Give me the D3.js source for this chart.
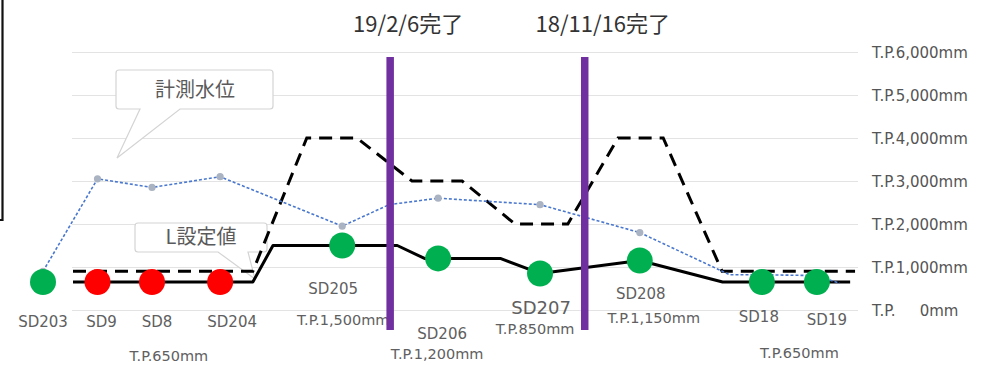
<!DOCTYPE html>
<html>
<head>
<meta charset="utf-8">
<script src="https://cdn.jsdelivr.net/npm/d3@7"></script>
<style>
  html, body { margin: 0; padding: 0; background: #ffffff; }
  svg { display: block; }
  .lat { font-family: "DejaVu Sans", Verdana, sans-serif; }
  .jp  { font-family: "Noto Sans CJK JP", "Noto Sans", sans-serif; }
</style>
</head>
<body>
<svg id="chart" width="990" height="365"></svg>
<script>
// ---- Stations along the drainage route (positions in route units) ----
const stations      = ["SD203", "SD9", "SD8", "SD204", "SD205", "SD206", "SD207", "SD208", "SD18", "SD19"];
const stationPos    = [0, 1, 2, 3.25, 5.49, 7.25, 9.12, 10.95, 13.19, 14.2];
const bottomLevel   = [650, 650, 650, 650, 1500, 1200, 850, 1150, 650, 650];   // T.P. mm
const stationStatus = ["ok", "alert", "alert", "alert", "ok", "ok", "ok", "ok", "ok", "ok"];

// Measured water level (計測水位): trace along the route, and readings at each station
const measuredPos   = [0, 1, 2, 3.25, 5.49, 6.35, 7.25, 9.12, 10.95, 12.6, 13.19, 14.2, 14.62];
const measuredLevel = [900, 3050, 2850, 3100, 1950, 2450, 2600, 2450, 1800, 820, 820, 800, 620];
const measuredAtStation = [900, 3050, 2850, 3100, 1950, 2600, 2450, 1800, 820, 800];

// Channel bottom profile (solid line)
const bottomPathPos   = [0.55, 3.85, 4.22, 6.5, 7.0, 8.39, 9.12, 10.95, 12.47, 14.81];
const bottomPathLevel = [650, 650, 1500, 1500, 1200, 1200, 850, 1150, 650, 650];

// L setting value profile (dashed line)
const settingPos   = [0.55, 3.85, 4.84, 5.76, 6.77, 7.69, 8.66, 9.63, 10.55, 11.38, 12.46, 14.9];
const settingLevel = [900, 900, 4000, 4000, 3000, 3000, 2000, 2000, 4000, 4000, 900, 900];

// Completed works
const completionPos   = [6.37, 9.94];
const completionLabel = ["19/2/6完了", "18/11/16完了"];

// Axis ticks (T.P. mm)
const levelTicks = [0, 1000, 2000, 3000, 4000, 5000, 6000];

// Groups sharing one bottom level label
const groupMembers = [["SD9", "SD8", "SD204"], ["SD18", "SD19"]];

// ---- Layout ----
const svg = d3.select("#chart");
const x = d3.scaleLinear().domain([0, 15]).range([43, 860.5]);
const y = d3.scaleLinear().domain([0, 6000]).range([310, 52]);
const gridLeft = 72, gridRight = 858;

const fmtLevel = v => "T.P." + d3.format(",")(v) + "mm";

// Gridlines + right-hand level labels
const axis = d3.axisRight(y)
  .tickValues(levelTicks)
  .tickSize(-(gridRight - gridLeft))
  .tickPadding(14)
  .tickFormat(d => d === 0 ? "T.P." : fmtLevel(d));

const gAxis = svg.append("g")
  .attr("transform", `translate(${gridRight},0)`)
  .call(axis);
gAxis.select(".domain").remove();
gAxis.selectAll(".tick line").attr("stroke", "#e3e3e3").attr("stroke-width", 1.2);
gAxis.selectAll(".tick text")
  .attr("class", "lat")
  .attr("font-size", 15)
  .attr("fill", "#555555")
  .attr("dy", "0.35em")
  .style("font-family", "'DejaVu Sans', Verdana, sans-serif");
gAxis.selectAll(".tick").filter(d => d === 0).select("text")
  .append("tspan").attr("dx", 24).text("0mm");

// Frame edge at far left
svg.append("path")
  .attr("d", "M2.5,0 V220 H0")
  .attr("fill", "none").attr("stroke", "#111").attr("stroke-width", 2.2);

// ---- Callouts ----
function callout(x0, y0, x1, y1, tailA, tailB, tip) {
  const r = 3;
  return `M${x0 + r},${y0} H${x1 - r} Q${x1},${y0} ${x1},${y0 + r} V${y1 - r} Q${x1},${y1} ${x1 - r},${y1}` +
         ` H${tailB} L${tip[0]},${tip[1]} L${tailA},${y1} H${x0 + r} Q${x0},${y1} ${x0},${y1 - r}` +
         ` V${y0 + r} Q${x0},${y0} ${x0 + r},${y0} Z`;
}
const gCall = svg.append("g");
gCall.append("path")
  .attr("d", callout(116, 70, 273, 109, 140, 180, [117, 158]))
  .attr("fill", "#ffffff").attr("stroke", "#d4d4d4").attr("stroke-width", 1.2);
gCall.append("text").attr("class", "jp")
  .attr("x", 195).attr("y", 90).attr("dy", "0.35em")
  .attr("text-anchor", "middle").attr("font-size", 20).attr("fill", "#5a5a5a")
  .text("計測水位");
gCall.append("path")
  .attr("d", callout(135, 223, 267, 252, 218, 248, [255, 279]))
  .attr("fill", "#ffffff").attr("stroke", "#d4d4d4").attr("stroke-width", 1.2);
gCall.append("text").attr("class", "jp")
  .attr("x", 201).attr("y", 237).attr("dy", "0.35em")
  .attr("text-anchor", "middle").attr("font-size", 20).attr("fill", "#5a5a5a")
  .text("L設定値");

// ---- Lines ----
const line = d3.line().x(d => x(d[0])).y(d => y(d[1]));

svg.append("path")
  .datum(d3.zip(bottomPathPos, bottomPathLevel))
  .attr("d", line)
  .attr("fill", "none").attr("stroke", "#000").attr("stroke-width", 3)
  .attr("stroke-linejoin", "round");

svg.append("path")
  .datum(d3.zip(settingPos, settingLevel))
  .attr("d", line)
  .attr("fill", "none").attr("stroke", "#000").attr("stroke-width", 3)
  .attr("stroke-dasharray", "13,8");

svg.append("path")
  .datum(d3.zip(measuredPos, measuredLevel))
  .attr("d", line)
  .attr("fill", "none").attr("stroke", "#4a78cf").attr("stroke-width", 1.6)
  .attr("stroke-dasharray", "3,2");

svg.selectAll("circle.meas")
  .data(d3.zip(stationPos, measuredAtStation))
  .join("circle").attr("class", "meas")
  .attr("cx", d => x(d[0])).attr("cy", d => y(d[1])).attr("r", 3.6)
  .attr("fill", "#aab3c2");

// ---- Station markers ----
const stationData = stations.map((s, i) => ({ name: s, pos: stationPos[i], level: bottomLevel[i], status: stationStatus[i] }));
svg.selectAll("circle.st")
  .data(stationData)
  .join("circle").attr("class", "st")
  .attr("cx", d => x(d.pos)).attr("cy", d => y(d.level)).attr("r", 13)
  .attr("fill", d => d.status === "alert" ? "#ff0000" : "#00b050");

// ---- Station labels ----
const nameLayout = {
  SD203: [0, 322, 15], SD9: [4, 322, 15], SD8: [5, 322, 15], SD204: [12, 322, 15],
  SD205: [-9, 289, 15], SD206: [4, 334, 15], SD207: [1, 308, 18], SD208: [1, 294, 15],
  SD18: [-3, 317, 15], SD19: [10, 320, 15]
};
const valueLayout = { SD205: [1, 320], SD206: [-1, 354], SD207: [-5, 329], SD208: [14, 318] };

svg.selectAll("text.name")
  .data(stationData)
  .join("text").attr("class", "name lat")
  .attr("x", d => x(d.pos) + nameLayout[d.name][0])
  .attr("y", d => nameLayout[d.name][1])
  .attr("dy", "0.35em").attr("text-anchor", "middle")
  .attr("font-size", d => nameLayout[d.name][2]).attr("fill", "#606060")
  .text(d => d.name);

svg.selectAll("text.val")
  .data(stationData.filter(d => valueLayout[d.name]))
  .join("text").attr("class", "val lat")
  .attr("x", d => x(d.pos) + valueLayout[d.name][0])
  .attr("y", d => valueLayout[d.name][1])
  .attr("dy", "0.35em").attr("text-anchor", "middle")
  .attr("font-size", 14.5).attr("fill", "#606060")
  .text(d => fmtLevel(d.level));

const groupLayout = [[10, 356], [10, 353]];
groupMembers.forEach((members, gi) => {
  const pts = stationData.filter(d => members.includes(d.name));
  const cx = (x(d3.min(pts, d => d.pos)) + x(d3.max(pts, d => d.pos))) / 2;
  svg.append("text").attr("class", "lat")
    .attr("x", cx + groupLayout[gi][0]).attr("y", groupLayout[gi][1])
    .attr("dy", "0.35em").attr("text-anchor", "middle")
    .attr("font-size", 14.5).attr("fill", "#606060")
    .text(fmtLevel(pts[0].level));
});

// ---- Completion markers ----
const compData = d3.zip(completionPos, completionLabel);
svg.selectAll("line.comp")
  .data(compData)
  .join("line").attr("class", "comp")
  .attr("x1", d => x(d[0])).attr("x2", d => x(d[0]))
  .attr("y1", 57).attr("y2", 330)
  .attr("stroke", "#7030a0").attr("stroke-width", 7.5);
svg.selectAll("text.comp")
  .data(compData)
  .join("text").attr("class", "comp jp")
  .attr("x", d => x(d[0]) + 18).attr("y", 24).attr("dy", "0.35em")
  .attr("text-anchor", "middle").attr("font-size", 22).attr("fill", "#333333")
  .text(d => d[1]);
</script>
</body>
</html>
